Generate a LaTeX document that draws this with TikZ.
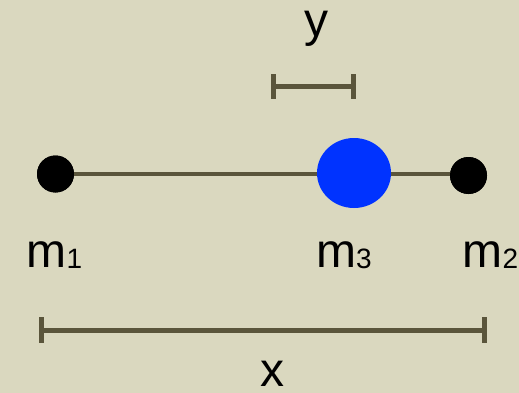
\documentclass[tikz,border=0pt]{standalone}
\usepackage{fontspec}
\setmainfont{Liberation Sans}
\usetikzlibrary{shapes.geometric}
\definecolor{bg}{HTML}{DAD8BF}
\definecolor{rod}{HTML}{5A553B}
\definecolor{mblue}{HTML}{0033FF}
\newcommand{\mlab}[1]{\fontsize{48}{50}\selectfont m\raisebox{-1pt}{\fontsize{28}{28}\selectfont #1}}
\begin{document}
\begin{tikzpicture}[x=1pt,y=-1pt,
  dot/.style={circle,fill=black,minimum size=37pt,inner sep=0pt},
  bigmass/.style={ellipse,fill=mblue,minimum width=74pt,minimum height=70pt,inner sep=0pt},
  lab/.style={inner sep=0pt,anchor=base,font=\fontsize{48}{50}\selectfont},
  rodline/.style={draw=rod,line width=4pt},
  bar/.style={draw=rod,line width=5pt}]
\fill[bg] (0,0) rectangle (519,393);
\useasboundingbox (0,0) rectangle (519,393);
% masses
\node[dot] (m1) at (55.5,174) {};
\node[dot] (m2) at (468.5,175.5) {};
\path[rodline] (m1.center) -- (m1.center -| m2.center);
\node[dot] at (m1) {};
\node[dot] at (m2) {};
\node[bigmass] (m3) at (354,173) {};
% labels
\node[lab] (l1) at (54.5,267) {\mlab{1}};
\node[lab] (l3) at (344,267) {\mlab{3}};
\node[lab] (l2) at (490.5,267) {\mlab{2}};
% y interval
\coordinate (ya) at (273.5,87);
\coordinate (yb) at (353,87);
\path[bar] (ya) -- (yb);
\path[bar] ([yshift=12.5pt]ya) -- ([yshift=-12.5pt]ya);
\path[bar] ([yshift=12.5pt]yb) -- ([yshift=-12.5pt]yb);
\node[lab] (ylab) at (316.5,37) {y};
% x interval
\coordinate (xa) at (41,330);
\coordinate (xb) at (484.5,330);
\path[bar] (xa) -- (xb);
\path[bar] ([yshift=13pt]xa) -- ([yshift=-13pt]xa);
\path[bar] ([yshift=13pt]xb) -- ([yshift=-13pt]xb);
\node[lab] (xlab) at (272,386) {x};
\end{tikzpicture}
\end{document}
